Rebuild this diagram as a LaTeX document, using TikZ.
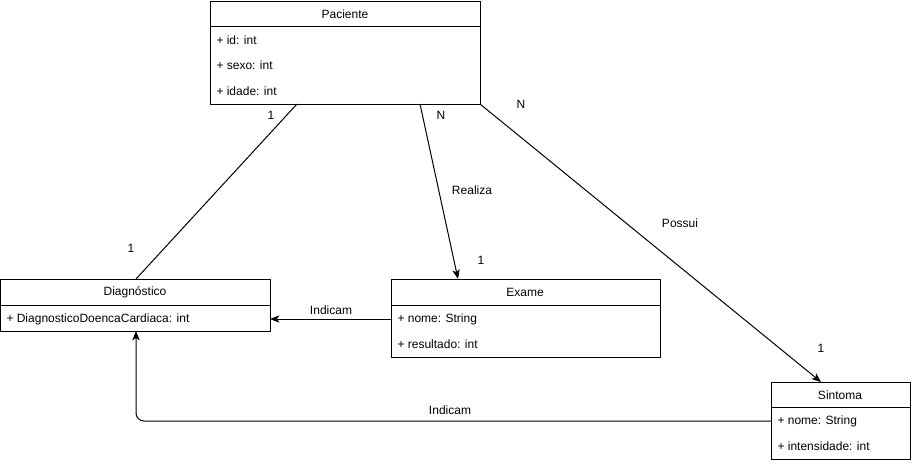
\documentclass[tikz,border=0pt]{standalone}
\usepackage{fontspec}
\setmainfont{Liberation Sans}
\usetikzlibrary{arrows.meta,calc}

\begin{document}
\begin{tikzpicture}[x=0.75pt,y=-0.75pt,line width=0.75pt,
  font=\fontsize{9}{11}\selectfont,
  umlbox/.style={draw,rectangle,anchor=north west,inner sep=0pt,outer sep=0pt},
  title/.style={inner sep=0pt},
  attr/.style={anchor=west,inner sep=0pt},
  lbl/.style={inner sep=0pt},
  arr/.style={-{Stealth[length=7pt,width=5.5pt,inset=1.8pt]}}]

\useasboundingbox (0,0) rectangle (911,464);

% class boxes
\node[umlbox,minimum width={270*0.75pt},minimum height={103*0.75pt}] (pac) at (210,1) {};
\node[umlbox,minimum width={269.5*0.75pt},minimum height={52*0.75pt}] (dia) at (0.5,279) {};
\node[umlbox,minimum width={269*0.75pt},minimum height={78*0.75pt}] (exa) at (391,279) {};
\node[umlbox,minimum width={139*0.75pt},minimum height={77*0.75pt}] (sin) at (771,382) {};

% header separators
\draw ($(pac.north west)+(0,25)$) -- ($(pac.north east)+(0,25)$);
\draw ($(dia.north west)+(0,26)$) -- ($(dia.north east)+(0,26)$);
\draw ($(exa.north west)+(0,26)$) -- ($(exa.north east)+(0,26)$);
\draw ($(sin.north west)+(0,25)$) -- ($(sin.north east)+(0,25)$);

% titles
\node[title] (pact) at (345,14) {Paciente};
\node[title] (diat) at (135,292) {Diagnóstico};
\node[title] (exat) at (525,292) {Exame};
\node[title] (sint) at (840,395) {Sintoma};

% attributes
\node[attr] (pa1) at (216,40) {+ id: int};
\node[attr] (pa2) at (216,65) {+ sexo: int};
\node[attr] (pa3) at (216,91) {+ idade: int};
\node[attr] (da1) at (6,319) {+ DiagnosticoDoencaCardiaca: int};
\node[attr] (ea1) at (397,319) {+ nome: String};
\node[attr] (ea2) at (397,344) {+ resultado: int};
\node[attr] (sa1) at (777,421) {+ nome: String};
\node[attr] (sa2) at (777,446) {+ intensidade: int};

% associations
\draw ($(pac.south west)+(87,0)$) -- ($(dia.north west)+(135.5,0)$);
\draw[arr] ($(pac.south west)+(210,0)$) -- ($(exa.north west)+(67,0)$);
\draw[arr] (pac.south east) -- ($(sin.north west)+(50,0)$);
\draw[arr] ($(exa.north west)+(0,40)$) -- ($(dia.north east)+(0,40)$);
\draw[arr,rounded corners=6pt] ($(sin.north west)+(0,39)$) -| ($(dia.south west)+(135.5,0)$);

% multiplicities and role labels
\node[lbl] (m1) at (271,115) {1};
\node[lbl] (m2) at (131,248) {1};
\node[lbl] (m3) at (441,115) {N};
\node[lbl] (m4) at (481,260) {1};
\node[lbl] (m5) at (521,104) {N};
\node[lbl] (m6) at (821,348) {1};
\node[lbl] (l1) at (472,190) {Realiza};
\node[lbl] (l2) at (680,223) {Possui};
\node[lbl] (l3) at (331,310) {Indicam};
\node[lbl] (l4) at (450,410) {Indicam};
\end{tikzpicture}
\end{document}
